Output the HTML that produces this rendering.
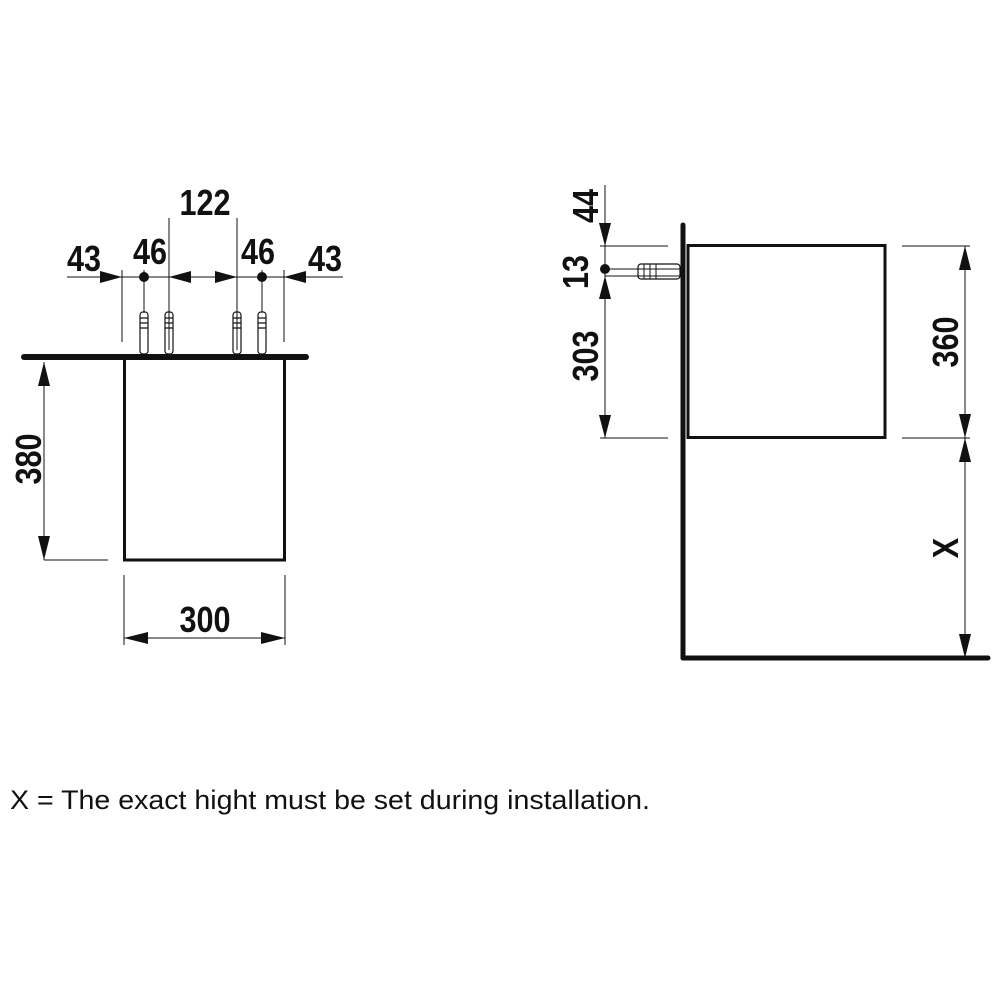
<!DOCTYPE html>
<html><head><meta charset="utf-8"><style>html,body{margin:0;padding:0;background:#fff}</style></head>
<body>
<svg width="1000" height="1000" viewBox="0 0 1000 1000" xmlns="http://www.w3.org/2000/svg">
<rect width="1000" height="1000" fill="#fff"/>
<g stroke="#111" fill="none">
 <line x1="24" y1="357" x2="306" y2="357" stroke-width="6" stroke-linecap="round"/>
 <rect x="124.5" y="358" width="160" height="202" stroke-width="3"/>
 <g stroke-width="1">
  <line x1="44" y1="362" x2="44" y2="560"/>
  <line x1="44" y1="560" x2="108" y2="560"/>
  <line x1="67" y1="277" x2="343" y2="277"/>
  <line x1="122" y1="270" x2="122" y2="342"/>
  <line x1="284" y1="270" x2="284" y2="342"/>
  <line x1="169" y1="218" x2="169" y2="350"/>
  <line x1="237" y1="218" x2="237" y2="350"/>
  <line x1="144" y1="270" x2="144" y2="312"/>
  <line x1="262" y1="270" x2="262" y2="312"/>
  <line x1="124" y1="575" x2="124" y2="645"/>
  <line x1="285" y1="575" x2="285" y2="645"/>
  <line x1="124" y1="638" x2="285" y2="638"/>
 </g>
 <g stroke-width="1.2">
  <rect x="140" y="312" width="8" height="42" rx="3"/>
  <rect x="165" y="312" width="8" height="42" rx="3"/>
  <rect x="233" y="312" width="8" height="42" rx="3"/>
  <rect x="258" y="312" width="8" height="42" rx="3"/>
  <path d="M140 318h8M140 323h8M140 328h8M165 318h8M165 323h8M165 328h8M233 318h8M233 323h8M233 328h8M258 318h8M258 323h8M258 328h8"/>
 </g>
 <line x1="683" y1="225" x2="683" y2="658" stroke-width="5" stroke-linecap="round"/>
 <line x1="683" y1="658" x2="988" y2="658" stroke-width="5" stroke-linecap="round"/>
 <rect x="688" y="245.5" width="197" height="192" stroke-width="3"/>
 <g stroke-width="1">
  <line x1="600" y1="246" x2="668" y2="246"/>
  <line x1="600" y1="438" x2="668" y2="438"/>
  <line x1="605" y1="185" x2="605" y2="438"/>
  <line x1="605" y1="269" x2="680" y2="269"/>
  <line x1="605" y1="276" x2="680" y2="276"/>
  <line x1="902" y1="246" x2="970" y2="246"/>
  <line x1="902" y1="438" x2="970" y2="438"/>
  <line x1="965" y1="246" x2="965" y2="658"/>
 </g>
 <rect x="638" y="264" width="42" height="15" rx="3" stroke-width="1.2"/>
 <path d="M644 264v15M650 264v15M656 264v15" stroke-width="1"/>
</g>
<g fill="#111">
 <circle cx="144" cy="277" r="5"/><circle cx="262" cy="277" r="5"/>
 <circle cx="605" cy="269" r="5"/>
 <polygon points="44,362 38,386 50,386"/>
 <polygon points="44,560 38,536 50,536"/>
 <polygon points="122,277 100,271 100,283"/>
 <polygon points="169,277 191,271 191,283"/>
 <polygon points="237,277 215,271 215,283"/>
 <polygon points="284,277 306,271 306,283"/>
 <polygon points="124,638 148,632 148,644"/>
 <polygon points="285,638 261,632 261,644"/>
 <polygon points="605,246 599,223 611,223"/>
 <polygon points="605,276 599,299 611,299"/>
 <polygon points="605,438 599,415 611,415"/>
 <polygon points="965,246 959,270 971,270"/>
 <polygon points="965,438 959,414 971,414"/>
 <polygon points="965,438 959,462 971,462"/>
 <polygon points="965,658 959,634 971,634"/>
</g>
<g font-family="Liberation Sans, sans-serif" font-weight="bold" font-size="36" fill="#111" text-anchor="middle">
 <text transform="translate(205,215) scale(0.85,1)">122</text>
 <text transform="translate(84,271) scale(0.85,1)">43</text>
 <text transform="translate(150,264) scale(0.85,1)">46</text>
 <text transform="translate(258,264) scale(0.85,1)">46</text>
 <text transform="translate(325,271) scale(0.85,1)">43</text>
 <text transform="translate(205,632) scale(0.85,1)">300</text>
 <text transform="translate(41,459) rotate(-90) scale(0.85,1)">380</text>
 <text transform="translate(598,206) rotate(-90) scale(0.85,1)">44</text>
 <text transform="translate(588,272) rotate(-90) scale(0.85,1)">13</text>
 <text transform="translate(598,356) rotate(-90) scale(0.85,1)">303</text>
 <text transform="translate(958,342) rotate(-90) scale(0.85,1)">360</text>
 <text transform="translate(958,548) rotate(-90) scale(0.85,1)">X</text>
</g>
<text x="10" y="809" font-family="Liberation Sans, sans-serif" font-size="27" fill="#111" textLength="640" lengthAdjust="spacingAndGlyphs">X = The exact hight must be set during installation.</text>
</svg>
</body></html>
